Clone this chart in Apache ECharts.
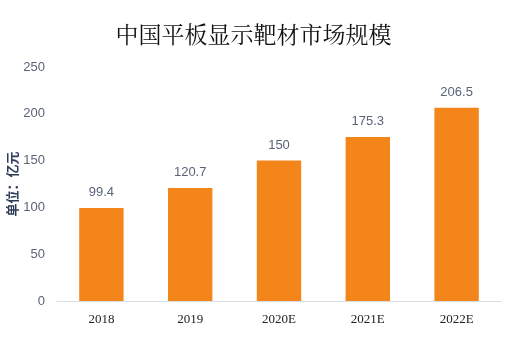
<!DOCTYPE html>
<html><head><meta charset="utf-8">
<script src="https://cdn.jsdelivr.net/npm/echarts@6/dist/echarts.min.js"></script>
<style>html,body{margin:0;padding:0;background:#fff}#c{width:507px;height:342px}</style>
</head><body><div id="c"></div>
<script>
const categories = ['2018','2019','2020E','2021E','2022E'];
const values = [99.4,120.7,150,175.3,206.5];
const yTicks = [0,50,100,150,200,250];
const chart = echarts.init(document.getElementById('c'));
chart.setOption({
  animation:false,
  title:{text:'中国平板显示靶材市场规模',left:'center',top:18,
    textStyle:{fontSize:23,fontWeight:'normal',color:'#111',fontFamily:'"Noto Serif CJK SC","Noto Sans CJK SC",serif'}},
  grid:{left:57,right:6,top:67,bottom:41,outerBoundsMode:'none',containLabel:false},
  xAxis:{type:'category',data:categories,
    axisLine:{lineStyle:{color:'#d9dde6'}},axisTick:{show:false},
    axisLabel:{color:'#222',fontSize:13,margin:12,fontFamily:'"Liberation Serif","Times New Roman",serif'}},
  yAxis:{type:'value',min:yTicks[0],max:yTicks[yTicks.length-1],interval:50,
    name:'单位：亿元',nameLocation:'middle',nameGap:38,nameMoveOverlap:false,
    nameTextStyle:{color:'#2f3e57',fontSize:13,fontWeight:'bold',fontFamily:'"Noto Sans CJK SC",sans-serif'},
    splitLine:{show:false},axisLine:{show:false},axisTick:{show:false},
    axisLabel:{color:'#5a6478',fontSize:13,margin:12,fontFamily:'"Liberation Sans",sans-serif'}},
  series:[{type:'bar',data:values,barWidth:'50%',
    itemStyle:{color:'#F4851B'},
    label:{show:true,position:'top',distance:9,color:'#5a6478',fontSize:13,fontFamily:'"Liberation Sans",sans-serif'}}]
});
</script></body></html>
